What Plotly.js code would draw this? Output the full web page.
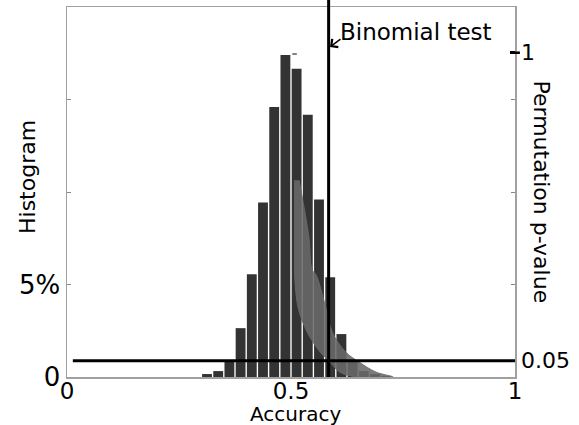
<!DOCTYPE html>
<html>
<head>
<meta charset="utf-8">
<script src="https://cdn.plot.ly/plotly-3.0.1.min.js"></script>
<style>html,body{margin:0;padding:0;background:#fff;}#chart{width:579px;height:425px;}</style>
</head>
<body>
<div id="chart"></div>
<script>
// Histogram of permutation accuracies (bin centres, fraction of permutations)
var accCenters = [0.3125, 0.3375, 0.3625, 0.3875, 0.4125, 0.4375, 0.4625, 0.4875, 0.5125, 0.5375, 0.5625, 0.5875, 0.6125, 0.6375, 0.6625, 0.6875, 0.7125];
var histFrac   = [0.0016, 0.0032, 0.0086, 0.0264, 0.0555, 0.0943, 0.146, 0.174, 0.1666, 0.1418, 0.096, 0.0539, 0.0232, 0.0086, 0.0032, 0.0016, 0.0005];

// Permutation p-value cloud (right axis): p levels and accuracy spread at each level
var permP       = [0.607, 0.432, 0.331, 0.315, 0.213, 0.139, 0.077, 0.046, 0.015, 0.0];
var permAccLow  = [0.508, 0.508, 0.508, 0.508, 0.516, 0.536, 0.565, 0.587, 0.609, 0.647];
var permAccHigh = [0.518, 0.540, 0.547, 0.556, 0.578, 0.592, 0.622, 0.652, 0.690, 0.728];
var permTopAcc  = [0.503, 0.513];
var permTopP    = [0.996, 0.996];

var binomialAcc = 0.584;   // binomial test threshold accuracy
var alphaLevel  = 0.05;    // significance level

var xTickVals = [0, 0.5, 1];
var xTickText = ['0', '0.5', '1'];
var yTickVals = [0, 0.05, 0.1, 0.15];
var yTickText = ['0', '5%', '', ''];
var y2TickVals = [0.05, 1];
var y2TickText = ['0.05', '1'];

var FONT = 'DejaVu Sans';
var FRAME = '#a0a0a0';

var traces = [
  {
    type: 'bar', x: accCenters, y: histFrac,
    marker: {color: '#333333', line: {width: 0}},
    hoverinfo: 'skip', showlegend: false
  },
  {
    type: 'scatter', mode: 'lines',
    x: permAccLow.concat(permAccHigh.slice().reverse()),
    y: permP.concat(permP.slice().reverse()),
    yaxis: 'y2', fill: 'toself',
    fillcolor: 'rgba(105,105,105,0.88)',
    line: {color: 'rgba(105,105,105,0.88)', width: 1, shape: 'spline'},
    hoverinfo: 'skip', showlegend: false
  },
  {
    type: 'scatter', mode: 'lines', x: permTopAcc, y: permTopP, yaxis: 'y2',
    line: {color: '#808080', width: 2}, hoverinfo: 'skip', showlegend: false
  }
];

var layout = {
  width: 579, height: 425,
  margin: {l: 67, r: 64, t: 7, b: 48, pad: 0},
  paper_bgcolor: '#ffffff', plot_bgcolor: '#ffffff',
  font: {family: FONT, color: '#000'},
  bargap: 0.12,
  showlegend: false,
  xaxis: {
    range: [0, 1], tickvals: xTickVals, ticktext: xTickText,
    ticks: '', showgrid: false, zeroline: false, ticklabelstandoff: -7,
    showline: true, linecolor: FRAME, linewidth: 1.5, mirror: true,
    tickfont: {family: FONT, size: 23, color: '#000'}
  },
  yaxis: {
    range: [0, 0.2], tickvals: yTickVals, ticktext: yTickText,
    ticks: 'inside', ticklen: 4, tickwidth: 1, tickcolor: '#888',
    showgrid: false, zeroline: false,
    showline: true, linecolor: FRAME, linewidth: 1.5, mirror: 'ticks',
    tickfont: {family: FONT, size: 26, color: '#000'}
  },
  yaxis2: {
    overlaying: 'y', side: 'right', range: [0, 1.141],
    tickvals: y2TickVals, ticktext: y2TickText,
    ticks: 'inside', ticklen: 5, tickwidth: 2.5, tickcolor: '#000',
    showgrid: false, zeroline: false,
    showline: true, linecolor: FRAME, linewidth: 1.5,
    tickfont: {family: FONT, size: 22, color: '#000'}
  },
  shapes: [
    {type: 'line', xref: 'x', yref: 'paper', x0: binomialAcc, x1: binomialAcc, y0: 0, y1: 1.02,
     line: {color: '#000', width: 3}},
    {type: 'line', xref: 'x', yref: 'y2', x0: 0.013, x1: 1, y0: alphaLevel, y1: alphaLevel,
     line: {color: '#000', width: 3}},
    {type: 'line', xref: 'paper', yref: 'y2', x0: 1, x1: 1.011, y0: y2TickVals[1], y1: y2TickVals[1],
     line: {color: '#000', width: 2.5}}
  ],
  annotations: [
    {text: 'Binomial test', xref: 'paper', yref: 'paper', x: 0.605, y: 0.932,
     xanchor: 'left', yanchor: 'middle', showarrow: false,
     font: {family: FONT, size: 23, color: '#000'}},
    {text: '', xref: 'x', yref: 'paper', x: binomialAcc + 0.003, y: 0.892,
     showarrow: true, ax: 12, ay: -9, arrowhead: 4, arrowsize: 1.3, arrowwidth: 1.5, arrowcolor: '#000'},
    {text: 'Histogram', xref: 'paper', yref: 'paper', x: -0.0893, y: 0.5405,
     xanchor: 'center', yanchor: 'middle', textangle: -90, showarrow: false,
     font: {family: FONT, size: 22, color: '#000'}},
    {text: 'Permutation p-value', xref: 'paper', yref: 'paper', x: 1.0603, y: 0.5014,
     xanchor: 'center', yanchor: 'middle', textangle: 90, showarrow: false,
     font: {family: FONT, size: 22, color: '#000'}},
    {text: 'Accuracy', xref: 'paper', yref: 'paper', x: 0.511, y: -0.099,
     xanchor: 'center', yanchor: 'middle', showarrow: false,
     font: {family: FONT, size: 20, color: '#000'}}
  ]
};

Plotly.newPlot('chart', traces, layout, {displayModeBar: false, staticPlot: true});
</script>
</body>
</html>
